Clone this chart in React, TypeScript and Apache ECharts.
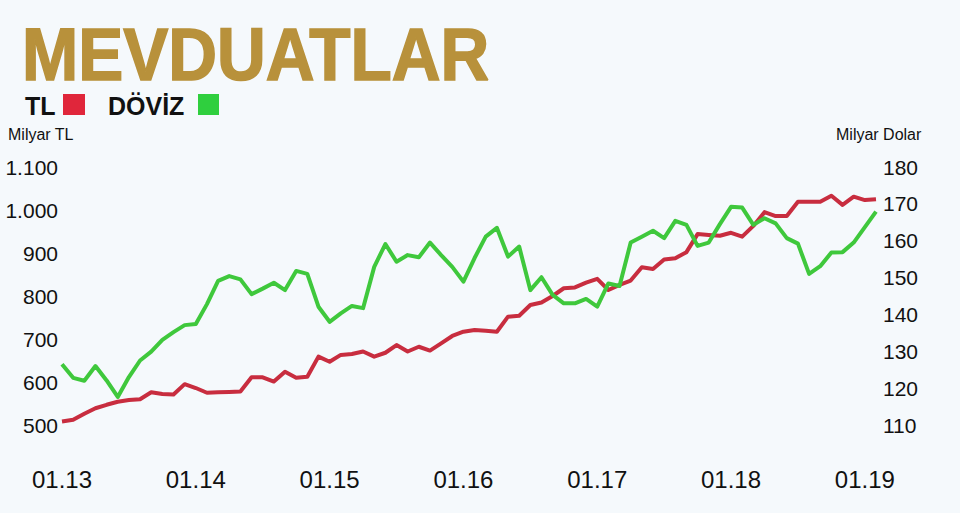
import React, { useEffect, useRef } from "react";
import * as echarts from "echarts";

// Month categories Jan 2013 – Feb 2019 (MM.YY)
const months: string[] = [];
for (let y = 13; y <= 19; y++) {
  for (let m = 1; m <= 12; m++) {
    if (y === 19 && m > 2) break;
    months.push(`${String(m).padStart(2, "0")}.${y}`);
  }
}

// TL deposits, billion TL (left axis)
const tlValues = [
  508, 512, 526, 539, 547, 554, 558, 560, 576, 572, 571, 595,
  586, 575, 576, 577, 578, 611, 611, 601, 624, 610, 612, 659,
  647, 663, 665, 671, 659, 668, 686, 671, 682, 673, 690, 707,
  717, 721, 719, 717, 752, 754, 779, 785, 800, 818, 820, 831,
  840, 814, 826, 836, 867, 863, 885, 888, 902, 944, 942, 940,
  947, 938, 963, 995, 986, 986, 1019, 1019, 1019, 1033, 1012, 1031,
  1023, 1025,
];

// FX deposits, billion USD (right axis)
const dovizValues = [
  126.5, 122.8, 122.0, 126.0, 122.1, 117.6, 123.0, 127.5, 129.9, 133.1, 135.2, 137.1,
  137.4, 142.8, 149.1, 150.4, 149.5, 145.5, 147.0, 148.6, 146.6, 151.8, 151.0, 142.1,
  138.0, 140.3, 142.3, 141.7, 152.9, 159.1, 154.3, 156.1, 155.5, 159.5, 156.1, 152.9,
  148.9, 155.3, 161.1, 163.5, 155.7, 158.4, 146.6, 150.1, 145.3, 143.0, 143.0, 144.2,
  142.1, 148.4, 147.7, 159.5, 161.1, 162.7, 160.7, 165.4, 164.3, 158.6, 159.5, 164.5,
  169.2, 169.0, 164.3, 166.1, 164.7, 160.7, 159.2, 151.0, 153.1, 156.8, 156.9, 159.5,
  163.7, 167.9,
];

const leftAxis = { min: 500, max: 1100, step: 100 };
const rightAxis = { min: 110, max: 180, step: 10 };

const FONT = "'Liberation Sans', Arial, Helvetica, sans-serif";

function fmtThousands(v: number): string {
  if (v >= 1000) {
    return `${Math.floor(v / 1000)}.${String(v % 1000).padStart(3, "0")}`;
  }
  return String(v);
}

function textEl(
  text: string,
  x: number,
  y: number,
  fontSize: number,
  fontWeight: string,
  fill: string,
  extra: any = {},
  styleExtra: any = {}
) {
  return {
    type: "text",
    x,
    y,
    ...extra,
    style: {
      text,
      fontSize,
      fontWeight,
      fontFamily: FONT,
      fill,
      align: "left",
      textAlign: "left",
      verticalAlign: "middle",
      textVerticalAlign: "middle",
      ...styleExtra,
    },
  };
}

export default function App() {
  const ref = useRef<HTMLDivElement>(null);

  useEffect(() => {
    if (!ref.current) return;
    const chart = echarts.init(ref.current, undefined, { renderer: "svg" });
    const axisCommon = {
      axisLine: { show: false },
      axisTick: { show: false },
      splitLine: { show: false },
    };
    chart.setOption({
      animation: false,
      backgroundColor: "#F5F9FC",
      grid: { left: 62, right: 84, top: 167, bottom: 88 },
      xAxis: {
        type: "category",
        data: months,
        boundaryGap: false,
        ...axisCommon,
        axisLabel: {
          interval: 11,
          margin: 42,
          fontSize: 24,
          color: "#111",
          fontFamily: FONT,
        },
      },
      yAxis: [
        {
          type: "value",
          position: "left",
          min: leftAxis.min,
          max: leftAxis.max,
          interval: leftAxis.step,
          ...axisCommon,
          axisLabel: {
            margin: 4,
            fontSize: 21,
            color: "#111",
            fontFamily: FONT,
            formatter: (v: number) => fmtThousands(v),
          },
        },
        {
          type: "value",
          position: "right",
          min: rightAxis.min,
          max: rightAxis.max,
          interval: rightAxis.step,
          ...axisCommon,
          axisLabel: {
            margin: 7,
            fontSize: 21,
            color: "#111",
            fontFamily: FONT,
          },
        },
      ],
      series: [
        {
          name: "TL",
          type: "line",
          yAxisIndex: 0,
          data: tlValues,
          symbol: "none",
          lineStyle: { color: "#C82D3F", width: 4, join: "round" },
          itemStyle: { color: "#C82D3F" },
        },
        {
          name: "DÖVİZ",
          type: "line",
          yAxisIndex: 1,
          data: dovizValues,
          symbol: "none",
          lineStyle: { color: "#3FC83C", width: 4, join: "round" },
          itemStyle: { color: "#3FC83C" },
        },
      ],
      graphic: [
        textEl("MEVDUATLAR", 22, 54, 74, "bold", "#B8913B", { scaleX: 0.912 }, { stroke: "#B8913B", lineWidth: 1.6 }),
        textEl("TL", 25, 106, 25, "bold", "#111"),
        { type: "rect", shape: { x: 63, y: 94, width: 22, height: 21 }, style: { fill: "#E0263B" } },
        textEl("DÖVİZ", 108, 106, 25, "bold", "#111"),
        { type: "rect", shape: { x: 198, y: 94, width: 21, height: 21 }, style: { fill: "#2FCF3E" } },
        textEl("Milyar TL", 8, 134, 16, "normal", "#111"),
        textEl("Milyar Dolar", 836, 134, 16, "normal", "#111"),
      ],
    });
    return () => chart.dispose();
  }, []);

  return (
    <div
      ref={ref}
      style={{ position: "fixed", left: 0, top: 0, width: 960, height: 513, background: "#F5F9FC" }}
    />
  );
}
